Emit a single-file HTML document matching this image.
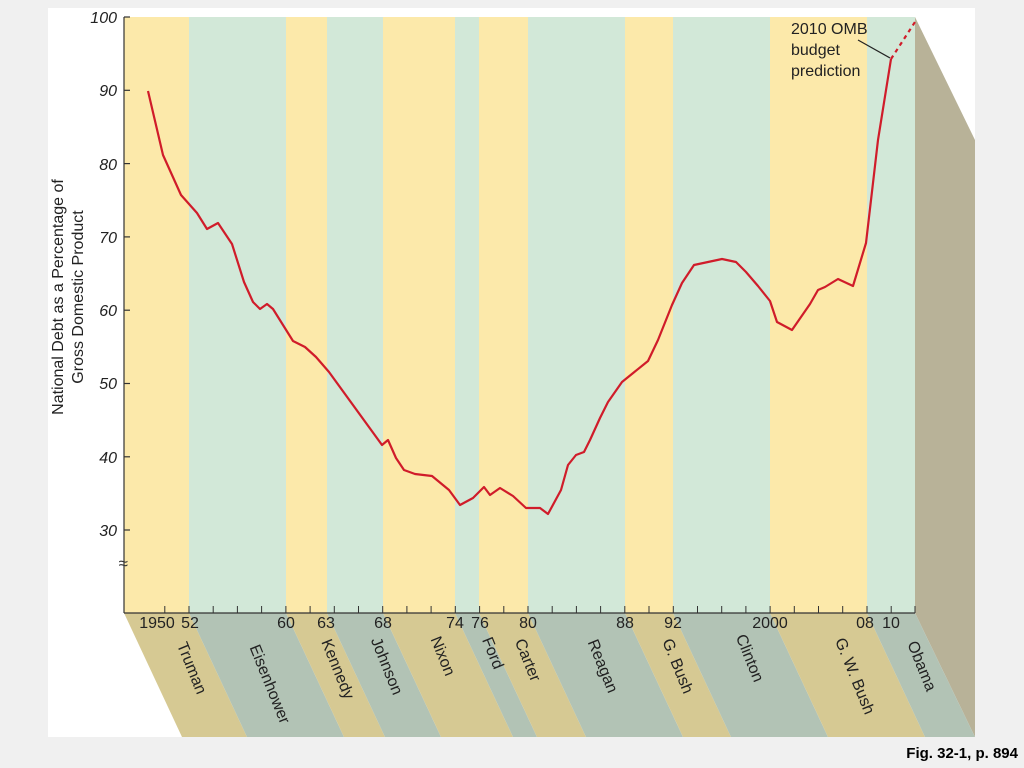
<!DOCTYPE html>
<html><head><style>body{margin:0;background:#f0f0f0;}svg{display:block}</style></head><body>
<svg width="1024" height="768" xmlns="http://www.w3.org/2000/svg" font-family="Liberation Sans, Arial, sans-serif">
<rect width="1024" height="768" fill="#f0f0f0"/>
<rect x="48" y="8" width="927" height="729" fill="#fff"/>
<polygon points="915,17 975,140 975,737 915,613" fill="#b8b298"/>
<g>
<polygon points="124,613 189,613 247,737 182,737" fill="#d6c993"/>
<polygon points="189,613 286,613 344,737 247,737" fill="#b2c3b5"/>
<polygon points="286,613 327,613 385,737 344,737" fill="#d6c993"/>
<polygon points="327,613 383,613 441,737 385,737" fill="#b2c3b5"/>
<polygon points="383,613 455,613 513,737 441,737" fill="#d6c993"/>
<polygon points="455,613 479,613 537,737 513,737" fill="#b2c3b5"/>
<polygon points="479,613 528,613 586,737 537,737" fill="#d6c993"/>
<polygon points="528,613 625,613 683,737 586,737" fill="#b2c3b5"/>
<polygon points="625,613 673,613 731,737 683,737" fill="#d6c993"/>
<polygon points="673,613 770,613 828,737 731,737" fill="#b2c3b5"/>
<polygon points="770,613 867,613 925,737 828,737" fill="#d6c993"/>
<polygon points="867,613 915,613 975,737 925,737" fill="#b2c3b5"/>
</g>
<rect x="124" y="17" width="65" height="596" fill="#fce9aa"/>
<rect x="189" y="17" width="97" height="596" fill="#d2e8d8"/>
<rect x="286" y="17" width="41" height="596" fill="#fce9aa"/>
<rect x="327" y="17" width="56" height="596" fill="#d2e8d8"/>
<rect x="383" y="17" width="72" height="596" fill="#fce9aa"/>
<rect x="455" y="17" width="24" height="596" fill="#d2e8d8"/>
<rect x="479" y="17" width="49" height="596" fill="#fce9aa"/>
<rect x="528" y="17" width="97" height="596" fill="#d2e8d8"/>
<rect x="625" y="17" width="48" height="596" fill="#fce9aa"/>
<rect x="673" y="17" width="97" height="596" fill="#d2e8d8"/>
<rect x="770" y="17" width="97" height="596" fill="#fce9aa"/>
<rect x="867" y="17" width="48" height="596" fill="#d2e8d8"/>
<g stroke="#333" stroke-width="1.2" fill="none">
<line x1="124" y1="17" x2="124" y2="613"/>
<line x1="124" y1="613" x2="915" y2="613"/>
<line x1="124" y1="17" x2="130" y2="17"/><line x1="124" y1="90.3" x2="130" y2="90.3"/><line x1="124" y1="163.6" x2="130" y2="163.6"/><line x1="124" y1="236.9" x2="130" y2="236.9"/><line x1="124" y1="310.2" x2="130" y2="310.2"/><line x1="124" y1="383.5" x2="130" y2="383.5"/><line x1="124" y1="456.8" x2="130" y2="456.8"/><line x1="124" y1="530" x2="130" y2="530"/>
</g>
<g stroke="#333" stroke-width="1">
<path d="M164.8 613v-7M189 613v-7M213.2 613v-7M237.4 613v-7M261.6 613v-7M285.9 613v-7M310.1 613v-7M334.3 613v-7M358.5 613v-7M382.7 613v-7M406.9 613v-7M431.1 613v-7M455.3 613v-7M479.6 613v-7M503.8 613v-7M528 613v-7M552.2 613v-7M576.4 613v-7M600.6 613v-7M624.8 613v-7M649 613v-7M673.3 613v-7M697.5 613v-7M721.7 613v-7M745.9 613v-7M770.1 613v-7M794.3 613v-7M818.5 613v-7M842.7 613v-7M867 613v-7M891.2 613v-7M915 613v-7"/>
</g>
<text x="128" y="569" font-size="17" fill="#333" text-anchor="end">≈</text>
<g font-size="16" fill="#222" text-anchor="end" font-style="italic">
<text x="117" y="23">100</text><text x="117" y="96">90</text><text x="117" y="170">80</text><text x="117" y="243">70</text><text x="117" y="316">60</text><text x="117" y="389">50</text><text x="117" y="463">40</text><text x="117" y="536">30</text>
</g>
<g font-size="16" fill="#222" text-anchor="middle">
<text x="157" y="628">1950</text><text x="190" y="628">52</text><text x="286" y="628">60</text><text x="326" y="628">63</text><text x="383" y="628">68</text><text x="455" y="628">74</text><text x="480" y="628">76</text><text x="528" y="628">80</text><text x="625" y="628">88</text><text x="673" y="628">92</text><text x="770" y="628">2000</text><text x="865" y="628">08</text><text x="891" y="628">10</text>
</g>
<g font-size="16" fill="#222" transform="rotate(-90)" text-anchor="middle">
<text x="-297" y="63">National Debt as a Percentage of</text>
<text x="-297" y="83">Gross Domestic Product</text>
</g>
<g font-size="16" fill="#222" text-anchor="middle">
<text transform="translate(187,670) rotate(68)">Truman</text>
<text transform="translate(265,686) rotate(68)">Eisenhower</text>
<text transform="translate(333,671) rotate(68)">Kennedy</text>
<text transform="translate(382,668) rotate(68)">Johnson</text>
<text transform="translate(438,658) rotate(68)">Nixon</text>
<text transform="translate(488,655) rotate(68)">Ford</text>
<text transform="translate(523,662) rotate(68)">Carter</text>
<text transform="translate(598,668) rotate(68)">Reagan</text>
<text transform="translate(673,668) rotate(68)">G. Bush</text>
<text transform="translate(745,660) rotate(68)">Clinton</text>
<text transform="translate(850,678) rotate(68)">G. W. Bush</text>
<text transform="translate(917,668) rotate(68)">Obama</text>
</g>
<polyline fill="none" stroke="#d01c2a" stroke-width="2.2" stroke-linejoin="round" points="148,91 163,155 181,195 197,213 207,229 218,223 232,244 244,282 253,302 260,309 267,304 273,309 293,341 305,347 316,357 329,372 382,445 388,440 396,458 404,470 415,474 432,476 449,490 460,505 473,498 484,487 490,495 500,488 513,496 526,508 540,508 548,514 561,490 568,465 576,455 584,452 590,440 600,418 608,402 622,382 648,361 658,340 672,305 682,283 694,265 722,259 736,262 746,272 758,286 770,301 777,322 792,330 810,304 818,290 825,287 838,279 853,286 866,243 878,140 891,59"/>
<line x1="891" y1="59" x2="915" y2="22" stroke="#d01c2a" stroke-width="2.2" stroke-dasharray="4,4"/>
<line x1="858" y1="40" x2="890" y2="58" stroke="#222" stroke-width="1.2"/>
<g font-size="16" fill="#222">
<text x="791" y="34">2010 OMB</text><text x="791" y="55">budget</text><text x="791" y="76">prediction</text>
</g>
<text x="1018" y="758" font-size="15" font-weight="bold" fill="#000" text-anchor="end">Fig. 32-1, p. 894</text>
</svg>
</body></html>
